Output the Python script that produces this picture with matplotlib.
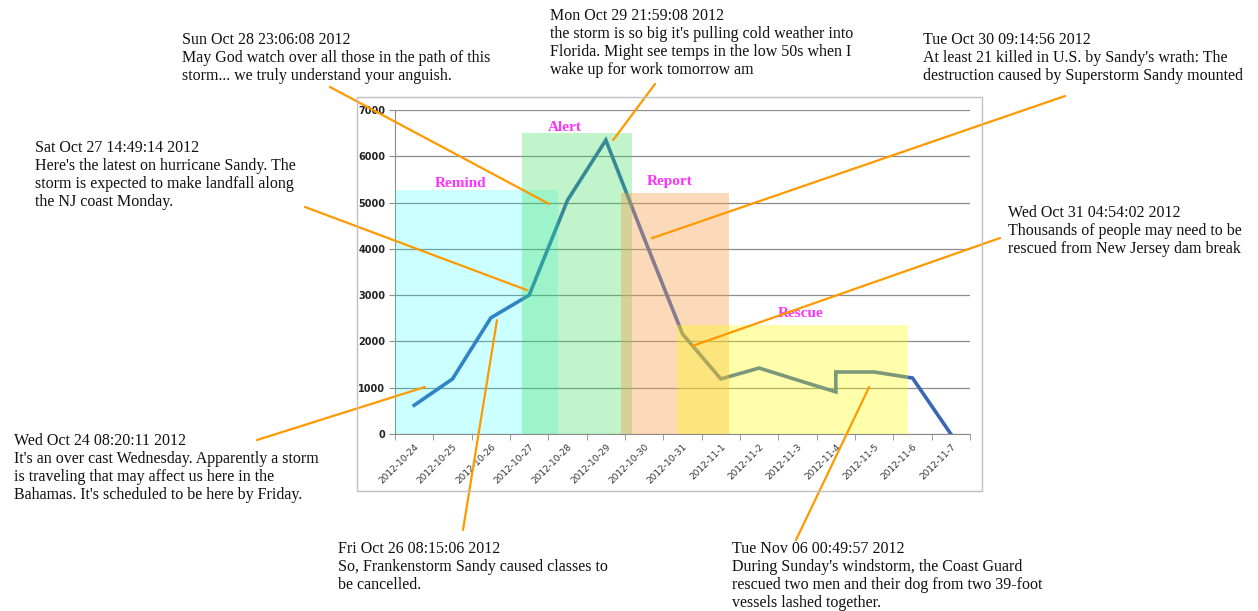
import matplotlib.pyplot as plt
from matplotlib.patches import Rectangle

# daily tweet counts
days = ['2012-10-24', '2012-10-25', '2012-10-26', '2012-10-27', '2012-10-28',
        '2012-10-29', '2012-10-30', '2012-10-31', '2012-11-1', '2012-11-2',
        '2012-11-3', '2012-11-4', '2012-11-5', '2012-11-6', '2012-11-7']
# 2012-11-4 appears twice: the line jumps straight up on that day
line_day = [0, 1, 2, 3, 4, 5, 6, 7, 8, 9, 10, 11, 11, 12, 13, 14]
line_count = [620, 1190, 2510, 3000, 5050, 6350, 4230, 2160, 1190, 1425,
              1165, 910, 1340, 1340, 1210, 0]

# phases: name, start, end (in day units), height
phase_names = ['Remind', 'Alert', 'Report', 'Rescue']
phase_start = [-0.5, 2.81, 5.40, 6.86]
phase_end = [3.75, 5.68, 8.21, 12.88]
phase_height = [5270, 6500, 5200, 2350]
phase_label_x = [1.2, 3.94, 6.67, 10.09]
phase_label_y = [5420, 6630, 5460, 2610]
phase_colors = ['#00ffff', '#33dd55', '#f5a050', '#ffff00']
phase_alpha = [0.2, 0.3, 0.4, 0.33]

# tweets: header, body, point on the chart (day, count)
tweet_head = ['Sun Oct 28 23:06:08 2012', 'Mon Oct 29 21:59:08 2012',
              'Tue Oct 30 09:14:56 2012', 'Sat Oct 27 14:49:14 2012',
              'Wed Oct 31 04:54:02 2012', 'Wed Oct 24 08:20:11 2012',
              'Fri Oct 26 08:15:06 2012', 'Tue Nov 06 00:49:57 2012']
tweet_body = [
    'May God watch over all those in the path of this\nstorm... we truly understand your anguish.',
    "the storm is so big it's pulling cold weather into\nFlorida. Might see temps in the low 50s when I\nwake up for work tomorrow am",
    "At least 21 killed in U.S. by Sandy's wrath: The\ndestruction caused by Superstorm Sandy mounted",
    "Here's the latest on hurricane Sandy. The\nstorm is expected to make landfall along\nthe NJ coast Monday.",
    'Thousands of people may need to be\nrescued from New Jersey dam break',
    "It's an over cast Wednesday. Apparently a storm\nis traveling that may affect us here in the\nBahamas. It's scheduled to be here by Friday.",
    'So, Frankenstorm Sandy caused classes to\nbe cancelled.',
    "During Sunday's windstorm, the Coast Guard\nrescued two men and their dog from two 39-foot\nvessels lashed together.",
]
tweet_day = [3.52, 5.19, 6.20, 2.94, 7.25, 0.28, 2.16, 11.87]
tweet_count = [4970, 6350, 4230, 3110, 1900, 1015, 2460, 1015]

# layout in pixels (from top-left of the 1258x611 picture)
W, H = 1258, 611
text_xy = [(182, 32), (550, 8), (923, 32), (35, 140), (1008, 205),
           (14, 433), (338, 541), (732, 541)]
leader_xy = [(330, 87), (655, 84), (1065, 96), (305, 207), (1000, 238),
             (257, 440), (463, 530), (796, 540)]


def fx(px):
    return px / W


def fy(py):
    return 1 - py / H


fig = plt.figure(figsize=(12.58, 6.11), dpi=100)
fig.patch.set_facecolor('white')

# chart frame
fig.patches.append(Rectangle((fx(357), fy(491)), fx(982) - fx(357), fy(97) - fy(491),
                             transform=fig.transFigure, fill=False,
                             edgecolor='#c0c0c0', lw=1.0, zorder=0))

ax = fig.add_axes([fx(395), fy(434), fx(970) - fx(395), fy(110) - fy(434)])
ax.set_xlim(-0.5, len(days) - 0.5)
ax.set_ylim(0, 7000)

ax.plot(line_day, line_count, color='#3b66b6', lw=2.6, zorder=2,
        solid_joinstyle='miter')

for i in range(len(phase_names)):
    ax.add_patch(Rectangle((phase_start[i], 0), phase_end[i] - phase_start[i],
                           phase_height[i], facecolor=phase_colors[i],
                           alpha=phase_alpha[i], lw=0, zorder=3))
    ax.text(phase_label_x[i], phase_label_y[i], phase_names[i], color='#ff33ff',
            fontsize=11, fontweight='bold', family='Liberation Serif',
            ha='center', va='center', zorder=4)

ax.set_yticks(range(0, 7001, 1000))
ax.grid(axis='y', color='#8c8c8c', lw=0.9, zorder=1)
ax.set_axisbelow(True)
ax.set_xticks(range(len(days)))
ax.set_xticklabels(days, rotation=45, ha='right', va='top', rotation_mode='anchor',
                   fontsize=6.5, color='#333333')
ax.set_xticks([i - 0.5 for i in range(len(days) + 1)], minor=True)
ax.tick_params(axis='x', which='major', length=0, pad=6)
ax.tick_params(axis='x', which='minor', length=4, color='#8c8c8c')
ax.tick_params(axis='y', length=4, color='#8c8c8c', labelsize=7, pad=3)
for lbl in ax.get_yticklabels():
    lbl.set_fontweight('bold')
    lbl.set_color('#222222')
for side in ['top', 'right']:
    ax.spines[side].set_visible(False)
for side in ['left', 'bottom']:
    ax.spines[side].set_color('#8c8c8c')

# tweets and their leader lines
for i in range(len(tweet_head)):
    tx, ty = text_xy[i]
    fig.text(fx(tx), fy(ty), tweet_head[i] + '\n' + tweet_body[i],
             family='Liberation Serif', fontsize=11.5, color='#111111',
             va='top', ha='left', linespacing=1.16)
    lx, ly = leader_xy[i]
    ax.annotate('', xy=(tweet_day[i], tweet_count[i]), xycoords='data',
                xytext=(fx(lx), fy(ly)), textcoords='figure fraction',
                arrowprops=dict(arrowstyle='-', color='#ff9900', lw=1.6,
                                shrinkA=0, shrinkB=0),
                annotation_clip=False, zorder=6)

fig.savefig('out.png', dpi=100)
